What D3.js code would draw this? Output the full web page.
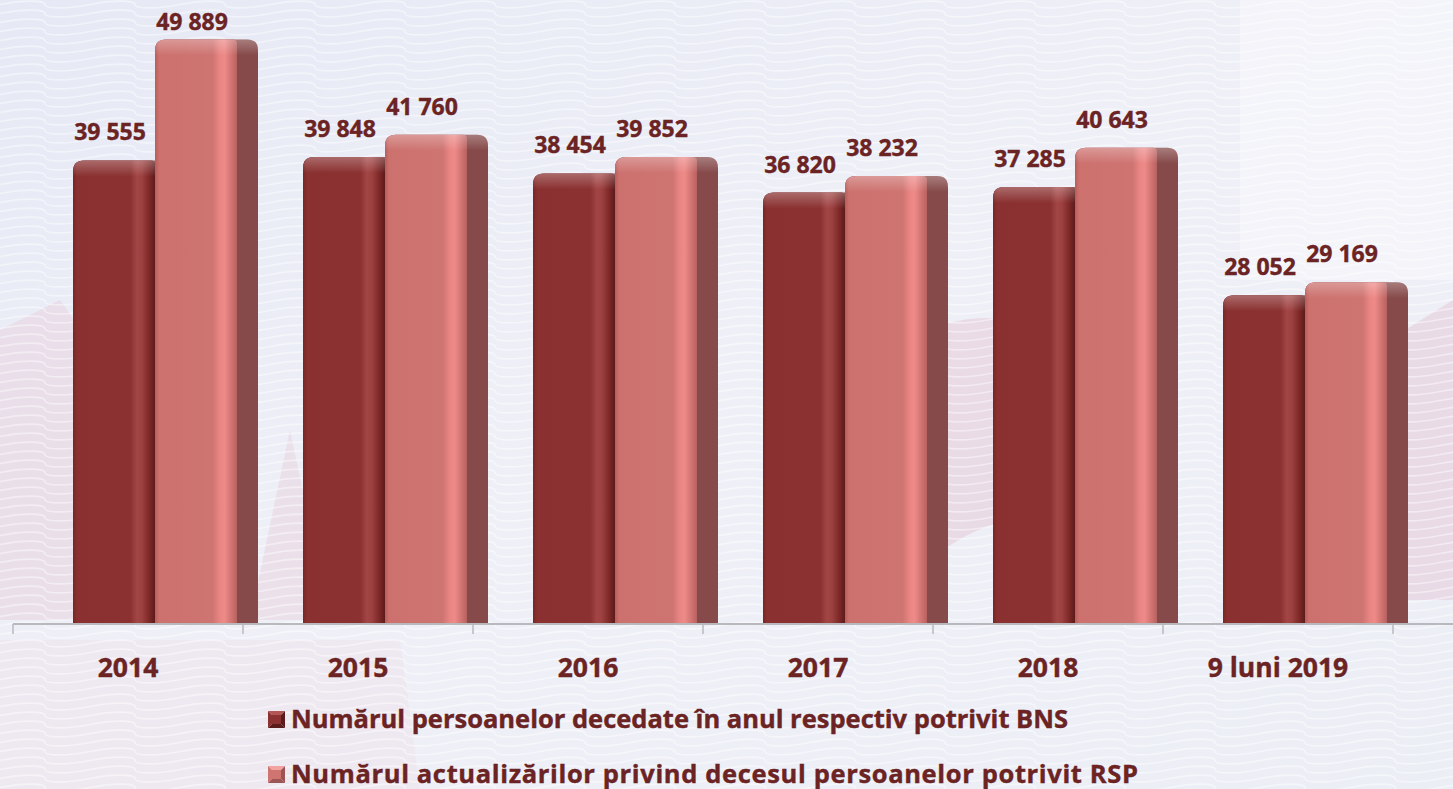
<!DOCTYPE html>
<html>
<head>
<meta charset="utf-8">
<script src="https://cdn.jsdelivr.net/npm/d3@7"></script>
<style>
  html, body { margin: 0; padding: 0; background: #eef0f7; }
  svg { display: block; font-family: "Open Sans", "Noto Sans", sans-serif; }
</style>
</head>
<body>
<div id="chart"></div>
<script>
// categories and series
var categories = ['2014', '2015', '2016', '2017', '2018', '9 luni 2019'];
var bnsValues = [39555, 39848, 38454, 36820, 37285, 28052];
var rspValues = [49889, 41760, 39852, 38232, 40643, 29169];
var valueLabelsBns = ['39 555', '39 848', '38 454', '36 820', '37 285', '28 052'];
var valueLabelsRsp = ['49 889', '41 760', '39 852', '38 232', '40 643', '29 169'];
var legendLabels = [
    'Numărul persoanelor decedate în anul respectiv potrivit BNS',
    'Numărul actualizărilor privind decesul persoanelor potrivit RSP'
];

var svgWidth = 1453;
var svgHeight = 789;
var baseY = 624;
var textColor = '#6b2323';

var svg = d3.select('#chart')
    .append('svg')
    .attr('width', svgWidth)
    .attr('height', svgHeight);

var defs = svg.append('defs');

// background gradient + faint watermark shapes
var bg = defs.append('linearGradient').attr('id', 'bg')
    .attr('x1', 0).attr('y1', 0).attr('x2', 1).attr('y2', 1);
bg.append('stop').attr('offset', '0%').attr('stop-color', '#e6e9f5');
bg.append('stop').attr('offset', '50%').attr('stop-color', '#eff0f7');
bg.append('stop').attr('offset', '100%').attr('stop-color', '#eceef6');

// wavy pattern
var wave = defs.append('pattern').attr('id', 'wave')
    .attr('patternUnits', 'userSpaceOnUse')
    .attr('width', 90).attr('height', 9);
wave.append('path')
    .attr('d', 'M0 4.5 C 22 0, 45 0, 45 4.5 S 68 9, 90 4.5')
    .attr('fill', 'none')
    .attr('stroke', '#ffffff')
    .attr('stroke-width', 1.6);

svg.append('rect').attr('width', svgWidth).attr('height', svgHeight).attr('fill', 'url(#bg)');

// faint watermark shapes
var marks = svg.append('g');
marks.append('path')
    .attr('d', 'M0 330 L 60 300 L 150 430 L 260 620 L 0 620 Z')
    .attr('fill', '#e8d3df').attr('opacity', 0.55);
marks.append('path')
    .attr('d', 'M250 620 L 290 430 L 330 620 Z')
    .attr('fill', '#e7d1de').attr('opacity', 0.5);
marks.append('path')
    .attr('d', 'M930 330 C 1000 300, 1060 330, 1100 380 L 1100 540 C 1040 500, 980 520, 930 560 Z')
    .attr('fill', '#e6cbd8').attr('opacity', 0.55);
marks.append('path')
    .attr('d', 'M1405 330 L 1453 300 L 1453 600 L 1405 600 Z')
    .attr('fill', '#e6cbd8').attr('opacity', 0.55);
marks.append('path')
    .attr('d', 'M0 640 L 400 640 L 420 789 L 0 789 Z')
    .attr('fill', '#eddde6').attr('opacity', 0.35);
marks.append('rect')
    .attr('x', 1240).attr('y', 0).attr('width', 213).attr('height', 280)
    .attr('fill', '#ffffff').attr('opacity', 0.35);

svg.append('rect').attr('width', svgWidth).attr('height', svgHeight)
    .attr('fill', 'url(#wave)').attr('opacity', 0.45);

// gradients for bars
function hGrad(id, stops) {
    var g = defs.append('linearGradient').attr('id', id)
        .attr('x1', 0).attr('y1', 0).attr('x2', 1).attr('y2', 0);
    stops.forEach(s => g.append('stop').attr('offset', s[0]).attr('stop-color', s[1]));
}
hGrad('darkFront', [
    ['0%', '#7a2626'], ['5%', '#8a3030'], ['70%', '#8b3131'], ['78%', '#a34545'],
    ['84%', '#9c4040'], ['93%', '#7e2828'], ['100%', '#5c1b1b']
]);
hGrad('lightFront', [
    ['0%', '#b85d5a'], ['5%', '#cc716e'], ['70%', '#ce7471'], ['79%', '#e98684'],
    ['85%', '#ee8a88'], ['93%', '#d17472'], ['100%', '#b86260']
]);
var topGrad = defs.append('linearGradient').attr('id', 'topShine')
    .attr('x1', 0).attr('y1', 0).attr('x2', 0).attr('y2', 1);
topGrad.append('stop').attr('offset', '0%').attr('stop-color', '#ffffff').attr('stop-opacity', 0.28);
topGrad.append('stop').attr('offset', '100%').attr('stop-color', '#ffffff').attr('stop-opacity', 0);

// scales
var xBand = d3.scaleBand()
    .domain(categories)
    .range([13, 1393])
    .paddingInner(0)
    .paddingOuter(0);

var yScale = d3.scaleLinear()
    .domain([0, 53250])
    .range([baseY, 0]);

var frontW = 82;
var depth = 21;
var radius = 11;

// path with rounded top corners
function topRounded(x, y, w, h, rl, rr) {
    return `M${x},${y + h}` +
        `L${x},${y + rl}` +
        `Q${x},${y} ${x + rl},${y}` +
        `L${x + w - rr},${y}` +
        `Q${x + w},${y} ${x + w},${y + rr}` +
        `L${x + w},${y + h}Z`;
}

var series = [
    { key: 'bns', values: bnsValues, labels: valueLabelsBns, offset: -55, fill: 'url(#darkFront)', side: '#732c2c' },
    { key: 'rsp', values: rspValues, labels: valueLabelsRsp, offset: 27, fill: 'url(#lightFront)', side: '#864a4a' }
];

var barsG = svg.append('g');

series.forEach(s => {
    var g = barsG.append('g').attr('class', 'series-' + s.key);
    var data = categories.map((c, i) => ({ cat: c, value: s.values[i], label: s.labels[i] }));
    var left = d => xBand(d.cat) + xBand.bandwidth() / 2 + s.offset;

    // side (depth) + full rounded top
    g.selectAll('path.side')
        .data(data)
        .enter()
        .append('path')
        .attr('class', 'side')
        .attr('d', d => topRounded(left(d), yScale(d.value), frontW + depth, baseY - yScale(d.value), radius, radius))
        .attr('fill', s.side);

    // front face
    g.selectAll('path.front')
        .data(data)
        .enter()
        .append('path')
        .attr('class', 'front')
        .attr('d', d => topRounded(left(d), yScale(d.value), frontW, baseY - yScale(d.value), radius, 4))
        .attr('fill', s.fill);

    // top shine
    g.selectAll('path.shine')
        .data(data)
        .enter()
        .append('path')
        .attr('class', 'shine')
        .attr('d', d => topRounded(left(d), yScale(d.value), frontW + depth, 16, radius, radius))
        .attr('fill', 'url(#topShine)');

    // value labels
    g.selectAll('text.value')
        .data(data)
        .enter()
        .append('text')
        .attr('class', 'value')
        .attr('x', d => left(d) + frontW / 2 - 4)
        .attr('y', d => Math.max(yScale(d.value) - 20, 30))
        .attr('text-anchor', 'middle')
        .attr('font-size', '23px')
        .attr('font-weight', 700)
        .attr('fill', textColor)
        .attr('stroke', textColor)
        .attr('stroke-width', 0.4)
        .text(d => d.label);
});

// x axis
var bottomAxis = d3.axisBottom(xBand)
    .tickSize(0)
    .tickFormat('');

var axisG = svg.append('g')
    .attr('transform', `translate(0, ${baseY})`)
    .call(bottomAxis);
axisG.select('.domain').remove();

axisG.append('line')
    .attr('x1', 13).attr('x2', svgWidth)
    .attr('y1', 0).attr('y2', 0)
    .attr('stroke', '#b9b9bd').attr('stroke-width', 2);

var boundaries = categories.map(c => xBand(c)).concat([xBand.range()[1]]);
axisG.selectAll('line.tick-mark')
    .data(boundaries)
    .enter()
    .append('line')
    .attr('class', 'tick-mark')
    .attr('x1', d => d).attr('x2', d => d)
    .attr('y1', 0).attr('y2', 10)
    .attr('stroke', '#b9b9bd').attr('stroke-width', 1.5);

svg.append('g').selectAll('text.cat')
    .data(categories)
    .enter()
    .append('text')
    .attr('class', 'cat')
    .attr('x', d => xBand(d) + xBand.bandwidth() / 2)
    .attr('y', 677)
    .attr('text-anchor', 'middle')
    .attr('font-size', '26.5px')
    .attr('font-weight', 700)
    .attr('fill', textColor)
    .attr('stroke', textColor)
    .attr('stroke-width', 0.4)
    .text(d => d);

// legend with bevelled markers
var markerColors = [
    { base: '#8b3131', light: '#b35555', dark: '#5a1b1b' },
    { base: '#d07472', light: '#f2a3a1', dark: '#9c5552' }
];
var legendWidths = [777, 847];
var legendG = svg.append('g');
legendLabels.forEach((label, i) => {
    var gy = 711 + i * 55;
    var gx = 268;
    var sz = 17;
    var c = markerColors[i];
    var m = legendG.append('g').attr('transform', `translate(${gx}, ${gy})`);
    var cx = sz / 2, inset = 4;
    m.append('polygon').attr('points', `0,0 ${sz},0 ${cx},${cx}`).attr('fill', c.light);
    m.append('polygon').attr('points', `0,0 0,${sz} ${cx},${cx}`).attr('fill', c.base);
    m.append('polygon').attr('points', `${sz},0 ${sz},${sz} ${cx},${cx}`).attr('fill', c.dark);
    m.append('polygon').attr('points', `0,${sz} ${sz},${sz} ${cx},${cx}`).attr('fill', c.dark);
    m.append('rect').attr('x', inset).attr('y', inset)
        .attr('width', sz - inset * 2).attr('height', sz - inset * 2).attr('fill', c.base);

    legendG.append('text')
        .attr('x', 291)
        .attr('y', gy + 17)
        .attr('font-size', '25.5px')
        .attr('font-weight', 700)
        .attr('fill', textColor)
        .attr('stroke', textColor)
        .attr('stroke-width', 0.4)
        .attr('textLength', legendWidths[i])
        .attr('lengthAdjust', 'spacing')
        .text(label);
});
</script>
</body>
</html>
